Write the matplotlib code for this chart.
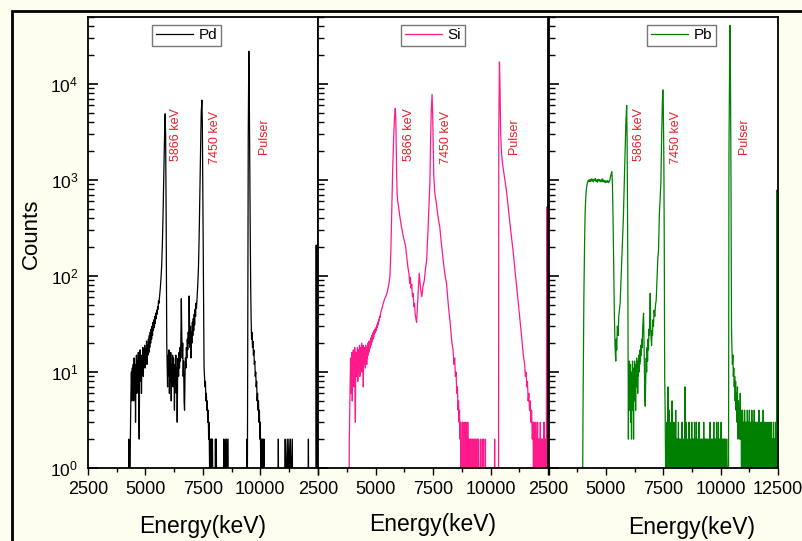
#!/usr/bin/python3

import matplotlib
matplotlib.use("Agg")
import matplotlib.pyplot as plt
from matplotlib.patches import Rectangle
import numpy as np

plt.rcParams['font.family'] = ['Liberation Sans', 'DejaVu Sans']
plt.rcParams['mathtext.default'] = 'regular'

# counts below 1 (empty channels) are stored as 0.5 so they drop below the axis
pd_spectrum = [
    (4200, 0.5), (4265, 0.5), (4275, 2), (4290, 0.5), (4330, 0.5), (4345, 2), (4370, 6), (4390, 10),
    (4410, 5), (4430, 11), (4450, 7), (4470, 12), (4490, 5), (4510, 14), (4530, 8), (4550, 12),
    (4570, 3), (4590, 10), (4610, 15), (4630, 6), (4650, 13), (4670, 9), (4690, 16), (4710, 4),
    (4730, 2), (4750, 11), (4770, 17), (4790, 8), (4810, 14), (4830, 6), (4850, 15), (4870, 10),
    (4890, 18), (4910, 9), (4930, 16), (4950, 12), (4970, 19), (4990, 11), (5010, 17), (5030, 13),
    (5050, 21), (5070, 12), (5090, 19), (5110, 15), (5130, 22), (5150, 16), (5170, 24), (5190, 18),
    (5210, 26), (5230, 20), (5250, 28), (5270, 22), (5290, 30), (5310, 24), (5330, 33), (5350, 27),
    (5370, 35), (5390, 29), (5410, 38), (5430, 32), (5450, 41), (5470, 36), (5490, 44), (5510, 40),
    (5530, 48), (5550, 45), (5570, 55), (5590, 52), (5620, 62), (5650, 75), (5680, 95), (5710, 130),
    (5740, 220), (5770, 450), (5800, 1100), (5830, 2600), (5860, 4900), (5880, 3000), (5900, 600),
    (5915, 90), (5930, 20), (5945, 12), (5965, 7), (5985, 15), (6005, 9), (6025, 17), (6045, 6),
    (6065, 13), (6085, 8), (6105, 16), (6125, 5), (6145, 12), (6165, 9), (6185, 15), (6205, 7),
    (6225, 14), (6245, 10), (6265, 4), (6285, 12), (6305, 8), (6325, 15), (6345, 6), (6365, 11),
    (6385, 3), (6405, 10), (6425, 14), (6445, 9), (6465, 16), (6485, 11), (6505, 18), (6525, 13),
    (6545, 22), (6565, 58), (6585, 25), (6605, 14), (6625, 20), (6645, 9), (6665, 13), (6685, 5),
    (6705, 4), (6725, 9), (6745, 14), (6765, 11), (6785, 18), (6805, 14), (6825, 22), (6845, 17),
    (6865, 26), (6885, 20), (6905, 62), (6925, 28), (6945, 18), (6965, 30), (6985, 14), (7005, 26),
    (7025, 20), (7045, 33), (7065, 24), (7085, 36), (7105, 27), (7125, 40), (7145, 31), (7165, 45),
    (7185, 38), (7205, 52), (7225, 46), (7250, 60), (7280, 80), (7310, 120), (7340, 250), (7370, 700),
    (7400, 2200), (7430, 5000), (7460, 6800), (7480, 4000), (7500, 800), (7520, 120), (7540, 25),
    (7555, 11), (7575, 9), (7595, 7), (7615, 8), (7635, 5), (7655, 6), (7675, 4), (7695, 5),
    (7715, 3), (7735, 4), (7755, 2), (7775, 3), (7795, 1), (7815, 2), (7835, 1), (7855, 2),
    (7875, 0.5), (7890, 2), (7905, 1), (7920, 2), (7940, 0.5), (8040, 0.5), (8050, 2), (8060, 0.5),
    (8090, 2), (8100, 0.5), (8400, 0.5), (8410, 2), (8420, 0.5), (8480, 2), (8490, 0.5), (8540, 2),
    (8550, 0.5), (8600, 2), (8610, 0.5), (9410, 0.5), (9420, 2), (9430, 0.5), (9440, 0.5),
    (9460, 50), (9480, 3000), (9505, 22000), (9525, 8000), (9545, 1500), (9565, 300), (9585, 80),
    (9605, 35), (9625, 22), (9645, 26), (9665, 18), (9685, 21), (9705, 15), (9725, 17), (9745, 12),
    (9765, 13), (9785, 9), (9805, 10), (9825, 7), (9845, 8), (9865, 5), (9885, 6), (9905, 4),
    (9925, 5), (9945, 3), (9965, 4), (9985, 2), (10005, 3), (10025, 1), (10045, 2), (10065, 1),
    (10085, 2), (10105, 1), (10125, 2), (10145, 0.5), (10165, 2), (10185, 0.5), (10780, 0.5),
    (10790, 2), (10800, 0.5), (11080, 0.5), (11090, 2), (11100, 0.5), (11180, 2), (11190, 0.5),
    (11250, 2), (11260, 0.5), (11320, 2), (11330, 0.5), (11400, 2), (11410, 0.5), (12090, 0.5),
    (12100, 2), (12110, 0.5), (12430, 0.5), (12440, 210), (12455, 0.5),
]

si_spectrum = [
    (3800, 0.5), (3840, 0.5), (3850, 2), (3870, 4), (3890, 9), (3905, 14), (3920, 6), (3935, 12),
    (3950, 8), (3965, 16), (3980, 5), (3995, 13), (4010, 9), (4025, 17), (4040, 7), (4055, 14),
    (4070, 10), (4085, 18), (4100, 6), (4115, 3), (4130, 12), (4145, 16), (4160, 9), (4175, 15),
    (4190, 11), (4205, 18), (4220, 8), (4235, 14), (4250, 10), (4265, 17), (4280, 12), (4295, 19),
    (4310, 9), (4325, 15), (4340, 11), (4355, 18), (4370, 13), (4385, 20), (4400, 10), (4415, 16),
    (4430, 12), (4445, 19), (4460, 7), (4475, 15), (4490, 12), (4505, 18), (4520, 13), (4535, 17),
    (4550, 11), (4565, 19), (4580, 14), (4595, 17), (4610, 12), (4625, 18), (4640, 14), (4655, 20),
    (4670, 15), (4685, 19), (4700, 16), (4715, 21), (4730, 17), (4745, 20), (4760, 18), (4775, 22),
    (4790, 19), (4805, 23), (4820, 20), (4835, 24), (4850, 21), (4865, 25), (4880, 22), (4895, 26),
    (4910, 23), (4930, 27), (4950, 25), (4970, 28), (4990, 26), (5010, 29), (5030, 27), (5050, 31),
    (5070, 29), (5090, 33), (5110, 31), (5130, 35), (5150, 34), (5170, 38), (5190, 37), (5210, 41),
    (5240, 43), (5270, 46), (5300, 49), (5340, 53), (5380, 57), (5420, 60), (5460, 63), (5500, 68),
    (5540, 75), (5580, 85), (5620, 100), (5660, 180), (5700, 500), (5740, 1300), (5780, 2700),
    (5820, 4500), (5855, 5600), (5875, 4300), (5895, 2200), (5915, 1100), (5935, 700), (5960, 600),
    (6000, 520), (6050, 420), (6100, 350), (6150, 300), (6200, 260), (6250, 230), (6300, 205),
    (6350, 160), (6400, 125), (6450, 105), (6480, 84), (6510, 97), (6540, 75), (6570, 82),
    (6600, 61), (6630, 66), (6660, 48), (6690, 52), (6720, 40), (6750, 36), (6780, 33), (6810, 45),
    (6840, 60), (6870, 80), (6895, 107), (6930, 85), (6960, 72), (7010, 61), (7060, 78), (7118, 90),
    (7170, 120), (7220, 147), (7250, 220), (7285, 325), (7320, 550), (7360, 930), (7390, 2500),
    (7420, 5200), (7455, 7800), (7480, 5000), (7505, 2200), (7530, 1100), (7575, 730), (7630, 600),
    (7690, 460), (7740, 380), (7791, 325), (7850, 230), (7920, 160), (7990, 115), (8040, 95),
    (8083, 84), (8130, 62), (8180, 45), (8230, 35), (8280, 26), (8320, 20), (8370, 17), (8410, 12),
    (8440, 14), (8470, 9), (8500, 10), (8530, 6), (8560, 7), (8587, 4), (8610, 5), (8630, 3),
    (8650, 4), (8670, 2), (8690, 3), (8710, 1), (8730, 2), (8750, 0.5), (8770, 3), (8790, 1),
    (8810, 2), (8830, 0.5), (8850, 3), (8870, 1), (8890, 2), (8910, 1), (8930, 3), (8950, 0.5),
    (8970, 2), (8990, 1), (9010, 3), (9030, 1), (9050, 2), (9070, 0.5), (9090, 2), (9110, 1),
    (9130, 2), (9150, 0.5), (9170, 2), (9190, 1), (9210, 2), (9230, 0.5), (9250, 2), (9270, 1),
    (9290, 2), (9310, 0.5), (9340, 2), (9360, 0.5), (9390, 2), (9410, 1), (9430, 2), (9450, 0.5),
    (9480, 2), (9500, 0.5), (9560, 0.5), (9570, 2), (9580, 0.5), (9640, 0.5), (9650, 2), (9660, 0.5),
    (9700, 2), (9710, 0.5), (9770, 0.5), (9780, 2), (9790, 0.5), (10170, 0.5), (10180, 2),
    (10190, 0.5), (10350, 0.5), (10360, 3000), (10390, 17000), (10415, 9000), (10445, 3000),
    (10474, 2000), (10520, 1500), (10600, 1100), (10690, 790), (10780, 500), (10880, 300),
    (10980, 186), (11060, 120), (11130, 80), (11200, 55), (11270, 38), (11330, 27), (11380, 20),
    (11430, 15), (11487, 12), (11520, 9), (11550, 10), (11580, 7), (11610, 8), (11640, 5),
    (11670, 6), (11700, 4), (11730, 5), (11760, 3), (11790, 4), (11820, 2), (11850, 3), (11870, 1),
    (11890, 3), (11910, 1), (11930, 2), (11950, 0.5), (11970, 3), (11990, 1), (12010, 2), (12030, 1),
    (12050, 3), (12070, 1), (12090, 2), (12110, 0.5), (12130, 2), (12150, 1), (12170, 3), (12190, 1),
    (12210, 2), (12230, 1), (12250, 2), (12270, 0.5), (12290, 2), (12310, 1), (12330, 3), (12350, 1),
    (12370, 2), (12390, 1), (12410, 2), (12430, 1), (12450, 525), (12470, 2), (12490, 1),
]

pb_spectrum = [
    (3900, 0.5), (3985, 0.5), (4000, 3), (4020, 15), (4040, 60), (4060, 137), (4080, 300),
    (4100, 500), (4130, 700), (4160, 850), (4200, 950), (4240, 1000), (4270, 960), (4300, 1010),
    (4330, 970), (4360, 1030), (4390, 980), (4420, 1020), (4450, 960), (4480, 1010), (4510, 990),
    (4540, 1040), (4570, 970), (4600, 1000), (4630, 950), (4660, 1020), (4690, 980), (4720, 1010),
    (4750, 960), (4780, 1000), (4810, 970), (4840, 1030), (4870, 960), (4900, 1000), (4930, 950),
    (4960, 990), (4990, 940), (5020, 980), (5050, 950), (5080, 990), (5110, 940), (5140, 960),
    (5170, 990), (5200, 1080), (5230, 1150), (5260, 1230), (5285, 900), (5310, 414), (5340, 120),
    (5370, 38), (5400, 18), (5430, 13), (5450, 22), (5470, 17), (5500, 30), (5530, 24), (5560, 38),
    (5590, 45), (5620, 52), (5650, 80), (5680, 125), (5720, 220), (5760, 400), (5800, 900),
    (5840, 2000), (5870, 4000), (5905, 6000), (5925, 2500), (5950, 200), (5970, 10), (5980, 2),
    (5995, 11), (6010, 6), (6025, 13), (6040, 4), (6055, 9), (6070, 12), (6085, 3), (6100, 8),
    (6115, 2), (6130, 10), (6145, 6), (6160, 13), (6175, 4), (6190, 9), (6205, 2), (6220, 11),
    (6235, 5), (6250, 13), (6265, 7), (6280, 10), (6295, 4), (6310, 12), (6325, 7), (6340, 14),
    (6355, 9), (6370, 12), (6385, 6), (6400, 13), (6415, 9), (6430, 15), (6445, 10), (6460, 14),
    (6475, 12), (6490, 17), (6505, 13), (6520, 19), (6540, 15), (6560, 22), (6580, 18), (6600, 28),
    (6620, 35), (6640, 41), (6660, 20), (6680, 9), (6700, 5), (6715, 4.4), (6735, 9), (6755, 14),
    (6775, 10), (6795, 18), (6815, 13), (6835, 22), (6855, 17), (6875, 28), (6895, 24), (6915, 45),
    (6930, 66), (6950, 30), (6970, 22), (6990, 19), (7010, 27), (7030, 24), (7050, 35), (7070, 30),
    (7100, 44), (7130, 38), (7160, 50), (7190, 56), (7230, 100), (7260, 150), (7292, 186),
    (7330, 450), (7395, 930), (7430, 3000), (7460, 6500), (7480, 8700), (7500, 6000), (7525, 1500),
    (7545, 150), (7560, 9), (7580, 4), (7600, 1), (7620, 2), (7640, 0.5), (7660, 3), (7680, 1),
    (7700, 7), (7720, 2), (7740, 0.5), (7760, 4), (7780, 1), (7800, 2), (7820, 0.5), (7840, 3),
    (7860, 1), (7880, 5), (7900, 1), (7920, 2), (7940, 0.5), (7960, 3), (7980, 0.5), (8000, 2),
    (8020, 1), (8040, 4), (8060, 1), (8080, 2), (8100, 0.5), (8120, 2), (8140, 1), (8160, 3),
    (8180, 0.5), (8200, 2), (8220, 1), (8240, 2), (8260, 0.5), (8280, 2), (8300, 1), (8320, 3),
    (8340, 0.5), (8360, 2), (8380, 1), (8400, 2), (8420, 0.5), (8440, 7), (8460, 2), (8480, 1),
    (8500, 3), (8520, 0.5), (8540, 2), (8560, 1), (8580, 2), (8600, 0.5), (8620, 3), (8640, 1),
    (8660, 2), (8680, 0.5), (8700, 2), (8720, 1), (8740, 3), (8760, 0.5), (8780, 2), (8800, 1),
    (8820, 2), (8840, 0.5), (8860, 3), (8880, 1), (8900, 2), (8920, 0.5), (8940, 3), (8960, 1),
    (8980, 2), (9000, 0.5), (9020, 2), (9040, 1), (9060, 3), (9080, 0.5), (9100, 2), (9120, 1),
    (9140, 2), (9160, 0.5), (9180, 2), (9200, 1), (9220, 2), (9240, 0.5), (9260, 3), (9280, 1),
    (9300, 2), (9320, 0.5), (9340, 2), (9360, 1), (9380, 2), (9400, 0.5), (9420, 2), (9440, 1),
    (9460, 2), (9480, 0.5), (9500, 2), (9520, 1), (9540, 3), (9560, 0.5), (9580, 2), (9600, 1),
    (9620, 2), (9640, 0.5), (9660, 2), (9680, 1), (9700, 3), (9720, 0.5), (9740, 2), (9760, 1),
    (9780, 2), (9800, 0.5), (9820, 3), (9840, 1), (9860, 2), (9880, 0.5), (9900, 3), (9920, 1),
    (9940, 2), (9960, 0.5), (9980, 2), (10000, 1), (10020, 3), (10040, 0.5), (10060, 2), (10080, 1),
    (10100, 2), (10120, 0.5), (10140, 2), (10160, 1), (10180, 2), (10200, 0.5), (10220, 2),
    (10240, 1), (10260, 2), (10300, 0.5), (10340, 0.5), (10360, 2000), (10400, 41000),
    (10425, 12000), (10450, 800), (10470, 30), (10490, 17), (10510, 12), (10530, 15), (10550, 9),
    (10570, 11), (10590, 7), (10610, 9), (10630, 5), (10650, 8), (10670, 4), (10690, 6), (10710, 3),
    (10730, 7), (10750, 2), (10770, 5), (10790, 3), (10810, 4), (10830, 2), (10850, 6), (10870, 2),
    (10890, 3), (10905, 1), (10920, 4), (10935, 1), (10950, 4), (10965, 2), (10980, 1), (10995, 3),
    (11010, 2), (11025, 1), (11040, 4), (11055, 2), (11070, 1), (11085, 3), (11100, 2), (11115, 1),
    (11130, 3), (11145, 1), (11160, 4), (11175, 2), (11190, 1), (11205, 3), (11220, 1), (11235, 2),
    (11250, 4), (11265, 1), (11280, 2), (11295, 1), (11310, 3), (11325, 2), (11340, 1), (11355, 4),
    (11370, 1), (11385, 2), (11400, 3), (11415, 1), (11430, 2), (11445, 1), (11460, 4), (11475, 2),
    (11490, 1), (11505, 3), (11520, 1), (11535, 2), (11550, 1), (11565, 3), (11580, 1), (11595, 2),
    (11610, 1), (11625, 3), (11640, 2), (11655, 1), (11670, 4), (11685, 1), (11700, 2), (11715, 1),
    (11730, 3), (11745, 1), (11760, 2), (11775, 1), (11790, 3), (11805, 1), (11820, 2), (11835, 1),
    (11850, 4), (11865, 1), (11880, 2), (11895, 1), (11910, 3), (11925, 1), (11940, 2), (11955, 1),
    (11970, 3), (11985, 1), (12000, 2), (12015, 1), (12030, 2), (12045, 1), (12060, 3), (12075, 1),
    (12090, 2), (12105, 1), (12120, 2), (12135, 1), (12150, 3), (12165, 1), (12180, 2), (12195, 1),
    (12210, 3), (12225, 1), (12240, 2), (12255, 1), (12270, 2), (12285, 1), (12300, 3), (12315, 1),
    (12330, 2), (12345, 1), (12360, 2), (12375, 1), (12390, 3), (12405, 1), (12420, 2), (12435, 1),
    (12450, 785), (12460, 0.5),
]

samples = ['Pd', 'Si', 'Pb']
spectra = [pd_spectrum, si_spectrum, pb_spectrum]
colors = ['black', '#ff1a8c', '#008000']

peak_names = ['5866 keV', '7450 keV', 'Pulser']
# where the rotated peak names sit in each panel (energy, counts)
peak_name_x = [[6346, 8010, 10150], [6443, 8074, 11009], [6449, 8063, 11030]]
peak_name_y = [2950, 2750, 2850]

x_ticks = [2500, 5000, 7500, 10000, 12500]

fig = plt.figure(figsize=(8.02, 5.41), dpi=100, facecolor='#fefef0')

# black frame around the plot, running off the right and bottom edges
fig.patches.append(Rectangle((12 / 802, -0.05), 1.1, 1.0297, transform=fig.transFigure,
                             fill=False, edgecolor='black', linewidth=2.0))

lefts = [88, 318.3, 548.5]
width_px = 229.6
legend_x = [0.43, 0.5, 0.58]
xlabel_pos = [(0.5, -0.104), (0.5, -0.1), (0.625, -0.107)]

for i in range(3):
    ax = fig.add_axes([lefts[i] / 802, 73 / 541, width_px / 802, 451 / 541])
    ax.set_facecolor('white')
    e = [p[0] for p in spectra[i]]
    c = [p[1] for p in spectra[i]]
    ax.plot(e, c, color=colors[i], lw=0.9, label=samples[i])
    ax.set_yscale('log')
    ax.set_ylim(1, 5e4)
    ax.set_xlim(2500, 12500)

    for j in range(3):
        ax.text(peak_name_x[i][j], peak_name_y[j], peak_names[j], rotation=90,
                ha='center', va='center', color='#e8202a', fontsize=9)

    ax.set_xticks(x_ticks)
    if i < 2:
        ax.set_xticklabels(['2500', '5000', '7500', '10000', ''])
    else:
        ax.set_xticklabels([str(t) for t in x_ticks])
    ax.set_xticks([3750, 6250, 8750, 11250], minor=True)
    ax.tick_params(axis='x', which='major', direction='out', length=5, width=1, labelsize=13, pad=4)
    ax.tick_params(axis='x', which='minor', direction='out', length=3, width=1)
    ax.tick_params(axis='y', which='major', direction='in', length=7, width=1.2, labelsize=12.5, pad=7)
    ax.tick_params(axis='y', which='minor', direction='in', length=4, width=1)
    if i > 0:
        ax.tick_params(axis='y', which='both', labelleft=False)
    for s in ax.spines.values():
        s.set_linewidth(1.3)

    ax.set_xlabel('Energy(keV)', fontsize=16.5)
    ax.xaxis.set_label_coords(*xlabel_pos[i])
    if i == 0:
        ax.set_ylabel('Counts', fontsize=16)
        ax.yaxis.set_label_coords(-0.2, 0.52)

    ax.legend(loc='upper center', bbox_to_anchor=(legend_x[i], 0.99), fontsize=11,
              frameon=True, fancybox=False, edgecolor='#555555', handlelength=2.4,
              handletextpad=0.4, borderpad=0.25, borderaxespad=0.2)

fig.savefig('out.png', dpi=100, facecolor=fig.get_facecolor())
